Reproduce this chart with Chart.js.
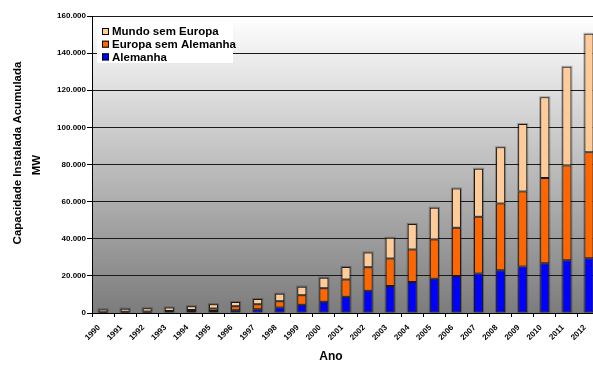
<!DOCTYPE html>
<html lang="pt">
<head>
<meta charset="utf-8">
<title>Capacidade Instalada Acumulada</title>
<script src="https://cdn.jsdelivr.net/npm/chart.js@4/dist/chart.umd.min.js"></script>
<style>
  html, body { margin: 0; padding: 0; background: #fff; overflow: hidden; }
  #wrap { width: 593px; height: 365px; overflow: hidden; }
  canvas { display: block; }
</style>
</head>
<body>
<div id="wrap"><canvas id="c" width="600" height="365"></canvas></div>
<script>
// Anos
const anos = ['1990','1991','1992','1993','1994','1995','1996','1997','1998','1999','2000',
              '2001','2002','2003','2004','2005','2006','2007','2008','2009','2010','2011','2012'];

// Capacidade instalada acumulada (MW) por região
const alemanha = [60, 110, 180, 330, 600, 1100, 1500, 2050, 2900, 4400, 6100,
                  8700, 12000, 14600, 16700, 18500, 20000, 21300, 23000, 25000, 26800, 28400, 29500];
const europaSemAlemanha = [400, 500, 600, 800, 1000, 1300, 2100, 2600, 3400, 5100, 7300,
                           9300, 12600, 14700, 17500, 21100, 25900, 30500, 36000, 40500, 45900, 51100, 57100];
const mundoSemEuropa = [1440, 1690, 1720, 1770, 2000, 2300, 2300, 2850, 4100, 4700, 5600,
                        6800, 8000, 11200, 13800, 17100, 21200, 25900, 30300, 36300, 43500, 53100, 63800];

// Eixo Y
const yMax = 160000;
const yPasso = 20000;

const tituloY = ['Capacidade Instalada Acumulada', 'MW'];
const tituloX = 'Ano';

const FONT = "'Liberation Sans', Arial, sans-serif";

function milhares(v) {
  return String(v).replace(/\B(?=(\d{3})+(?!\d))/g, '.');
}

// Fundo da área de plotagem em degradê (branco no topo, cinza na base)
const fundoPlot = {
  id: 'fundoPlot',
  beforeDraw(chart) {
    const { ctx, chartArea: a } = chart;
    const g = ctx.createLinearGradient(0, a.top, 0, a.bottom);
    g.addColorStop(0, '#ffffff');
    g.addColorStop(1, '#7c7c7c');
    ctx.save();
    ctx.fillStyle = g;
    ctx.fillRect(a.left, a.top, a.right - a.left, a.bottom - a.top);
    ctx.restore();
  }
};

// Sombra suave em volta de cada coluna empilhada
const sombraColunas = {
  id: 'sombraColunas',
  beforeDatasetsDraw(chart) {
    const { ctx } = chart;
    const metas = chart.data.datasets.map((_, i) => chart.getDatasetMeta(i));
    ctx.save();
    ctx.fillStyle = 'rgba(0,0,0,0.28)';
    metas[0].data.forEach((el, j) => {
      let topo = el.y;
      metas.forEach(m => { topo = Math.min(topo, m.data[j].y); });
      const w = el.width;
      ctx.fillRect(el.x - w / 2 - 1, topo - 1, w + 2, el.base - topo + 1);
    });
    ctx.restore();
  }
};

// Títulos dos eixos
const titulosEixos = {
  id: 'titulosEixos',
  afterDraw(chart) {
    const { ctx } = chart;
    ctx.save();
    ctx.fillStyle = '#000';
    ctx.textAlign = 'center';
    ctx.textBaseline = 'middle';
    ctx.font = 'bold 11.5px ' + FONT;
    [[18, 153], [37, 165]].forEach(([x, y], i) => {
      ctx.save();
      ctx.translate(x, y);
      ctx.rotate(-Math.PI / 2);
      ctx.fillText(tituloY[i], 0, 0);
      ctx.restore();
    });
    ctx.font = 'bold 12px ' + FONT;
    ctx.fillText(tituloX, 331, 357);
    ctx.restore();
  }
};

// Legenda dentro da área de plotagem, com fundo branco
const legendaInterna = {
  id: 'legendaInterna',
  afterDraw(chart) {
    const { ctx } = chart;
    const itens = chart.data.datasets.slice().reverse();
    ctx.save();
    ctx.fillStyle = '#ffffff';
    ctx.fillRect(97, 22, 136, 41);
    ctx.font = 'bold 11.5px ' + FONT;
    ctx.textBaseline = 'middle';
    ctx.textAlign = 'left';
    itens.forEach((ds, i) => {
      const cy = 31.5 + i * 12.7;
      ctx.fillStyle = ds.backgroundColor;
      ctx.fillRect(102, cy - 3.5, 7, 7);
      ctx.strokeStyle = '#000';
      ctx.lineWidth = 1;
      ctx.strokeRect(102.5, cy - 3, 6, 6);
      ctx.fillStyle = '#000';
      ctx.fillText(ds.label, 112, cy + 0.5);
    });
    ctx.restore();
  }
};

const estiloBarra = {
  borderColor: '#1a1a1a',
  borderWidth: 1,
  borderSkipped: false,
  barPercentage: 0.41,
  categoryPercentage: 1.0
};

new Chart(document.getElementById('c'), {
  type: 'bar',
  data: {
    labels: anos,
    datasets: [
      Object.assign({ label: 'Alemanha', data: alemanha, backgroundColor: '#0000ff' }, estiloBarra),
      Object.assign({ label: 'Europa sem Alemanha', data: europaSemAlemanha, backgroundColor: '#ff6600' }, estiloBarra),
      Object.assign({ label: 'Mundo sem Europa', data: mundoSemEuropa, backgroundColor: '#ffcc99' }, estiloBarra)
    ]
  },
  options: {
    responsive: false,
    devicePixelRatio: 1,
    animation: false,
    layout: { padding: { top: 16, right: 0, bottom: 0, left: 0 } },
    plugins: {
      legend: { display: false },
      tooltip: { enabled: false }
    },
    scales: {
      x: {
        stacked: true,
        grid: { display: true, drawOnChartArea: false, drawTicks: true, tickLength: 4, color: '#000', offset: true },
        border: { display: true, color: '#000', width: 1 },
        ticks: {
          autoSkip: false, minRotation: 45, maxRotation: 45, padding: 6, labelOffset: -4,
          color: '#000', font: { family: FONT, size: 8, weight: 'bold' }
        },
        afterFit(s) { s.height = 52; s.paddingLeft = 0; s.paddingRight = 0; }
      },
      y: {
        stacked: true,
        min: 0,
        max: yMax,
        ticks: {
          stepSize: yPasso, padding: 1, color: '#000',
          font: { family: FONT, size: 8, weight: 'bold' },
          callback: v => milhares(v)
        },
        grid: { color: '#1a1a1a', lineWidth: 1, tickLength: 5, tickColor: '#000' },
        border: { display: true, color: '#000', width: 1 },
        afterFit(s) { s.width = 92; s.paddingTop = 0; s.paddingBottom = 0; }
      }
    }
  },
  plugins: [fundoPlot, sombraColunas, titulosEixos, legendaInterna]
});
</script>
</body>
</html>
